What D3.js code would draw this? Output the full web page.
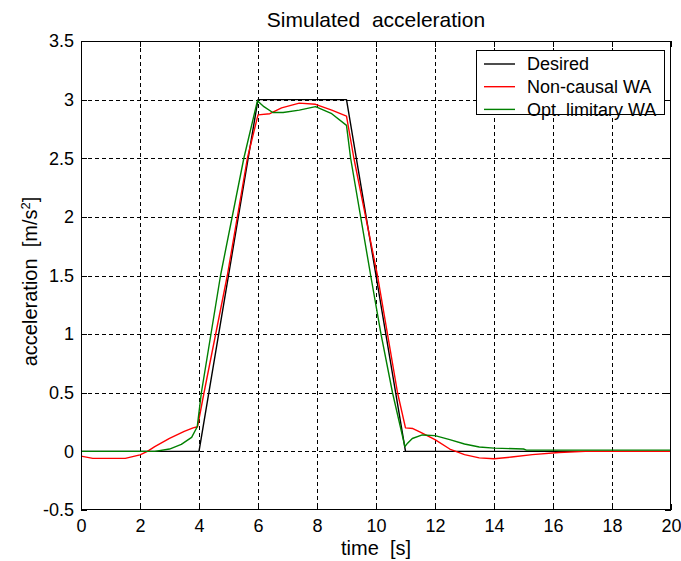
<!DOCTYPE html>
<html>
<head>
<meta charset="utf-8">
<script src="https://cdn.jsdelivr.net/npm/d3@7/dist/d3.min.js"></script>
<style>
  html, body { margin: 0; padding: 0; background: #fff; }
  svg { display: block; }
  text { font-family: "Liberation Sans", Arial, sans-serif; fill: #000; }
</style>
</head>
<body>
<svg id="chart" width="681" height="561"></svg>
<script>
// ---- data ----
const xTicks = [0, 2, 4, 6, 8, 10, 12, 14, 16, 18, 20];
const yTicks = [-0.5, 0, 0.5, 1, 1.5, 2, 2.5, 3, 3.5];
const yTickLabels = ["-0.5", "0", "0.5", "1", "1.5", "2", "2.5", "3", "3.5"];

const seriesNames = ["Desired", "Non-causal WA", "Opt. limitary WA"];
const seriesColors = ["#000000", "#ff0000", "#008000"];

const timeDesired = [0, 4, 6, 9, 11, 20];
const valDesired  = [0, 0, 3, 3, 0, 0];

const timeNonCausal = [0, 0.4, 1.5, 2.0, 2.25, 2.5, 3.0, 3.5, 3.8, 3.95, 4.17, 4.96, 5.64, 6.0, 6.4, 6.8, 7.4, 7.95, 8.5, 9.0, 9.25, 10.05, 10.39, 10.73, 11.0, 11.25, 11.5, 12.0, 12.5, 13.0, 13.5, 14.0, 14.6, 15.3, 16.2, 17.1, 20];
const valNonCausal  = [-0.04, -0.06, -0.06, -0.03, 0.0, 0.04, 0.11, 0.17, 0.2, 0.21, 0.5, 1.5, 2.5, 2.87, 2.88, 2.93, 2.97, 2.96, 2.91, 2.86, 2.5, 1.5, 1.0, 0.5, 0.2, 0.195, 0.165, 0.1, 0.02, -0.028, -0.055, -0.063, -0.048, -0.028, -0.009, 0, 0];

const timeOptimal = [0, 2.5, 3.0, 3.4, 3.75, 3.94, 4.08, 4.73, 5.52, 5.98, 6.2, 6.5, 6.85, 7.4, 7.95, 8.5, 9.0, 9.14, 9.82, 10.17, 10.56, 10.98, 11.07, 11.23, 11.57, 12.0, 12.5, 13.0, 13.5, 14.0, 15.0, 15.1, 20];
const valOptimal  = [0, 0, 0.02, 0.06, 0.12, 0.21, 0.5, 1.5, 2.5, 2.99, 2.94, 2.89, 2.89, 2.91, 2.94, 2.88, 2.78, 2.5, 1.5, 1.0, 0.5, 0.04, 0.07, 0.11, 0.14, 0.134, 0.10, 0.063, 0.037, 0.028, 0.02, 0.011, 0.011];

// ---- layout ----
const L = 81, R = 671, T = 41, B = 510;
const svg = d3.select("#chart");
const x = d3.scaleLinear().domain([0, 20]).range([L, R]);
const y = d3.scaleLinear().domain([-0.5, 3.5]).range([B, T]);

svg.append("rect").attr("x", 0).attr("y", 0).attr("width", 681).attr("height", 561).attr("fill", "#fff");

// grid
const grid = svg.append("g").attr("stroke", "#000").attr("stroke-width", 1)
  .attr("stroke-dasharray", "4,3").attr("shape-rendering", "crispEdges");
xTicks.filter(d => d > 0 && d < 20).forEach(d => {
  grid.append("line").attr("x1", Math.round(x(d)) + 0.5).attr("x2", Math.round(x(d)) + 0.5)
    .attr("y1", T).attr("y2", B);
});
yTicks.filter(d => d > -0.5 && d < 3.5).forEach(d => {
  grid.append("line").attr("y1", Math.round(y(d)) + 0.5).attr("y2", Math.round(y(d)) + 0.5)
    .attr("x1", L).attr("x2", R);
});

// axes (ticks inside, all four sides)
const tickLen = 6;
const axB = d3.axisBottom(x).tickValues(xTicks).tickSizeInner(-tickLen).tickSizeOuter(0).tickPadding(9).tickFormat(d3.format("d"));
const axT = d3.axisTop(x).tickValues(xTicks).tickSizeInner(-tickLen).tickSizeOuter(0).tickFormat("");
const axLft = d3.axisLeft(y).tickValues(yTicks).tickSizeInner(-tickLen).tickSizeOuter(0).tickPadding(7)
  .tickFormat((d, i) => yTickLabels[i]);
const axRgt = d3.axisRight(y).tickValues(yTicks).tickSizeInner(-tickLen).tickSizeOuter(0).tickFormat("");

function styleAxis(g) {
  g.select(".domain").remove();
  g.selectAll("line").attr("stroke", "#000").attr("shape-rendering", "crispEdges");
  g.selectAll("text").style("font-family", '"Liberation Sans", Arial, sans-serif').style("font-size", "18px").attr("fill", "#000");
}
svg.append("g").attr("transform", `translate(0,${B})`).call(axB).call(styleAxis);
svg.append("g").attr("transform", `translate(0,${T})`).call(axT).call(styleAxis);
svg.append("g").attr("transform", `translate(${L},0)`).call(axLft).call(styleAxis);
svg.append("g").attr("transform", `translate(${R},0)`).call(axRgt).call(styleAxis);

// clip
svg.append("clipPath").attr("id", "plotclip").append("rect")
  .attr("x", L).attr("y", T).attr("width", R - L).attr("height", B - T);

const line = d3.line().x(d => x(d[0])).y(d => y(d[1]));
const series = [
  d3.zip(timeDesired, valDesired),
  d3.zip(timeNonCausal, valNonCausal),
  d3.zip(timeOptimal, valOptimal)
];
const lines = svg.append("g").attr("clip-path", "url(#plotclip)");
series.forEach((s, i) => {
  lines.append("path").datum(s).attr("d", line)
    .attr("fill", "none").attr("stroke", seriesColors[i]).attr("stroke-width", 1.4)
    .attr("stroke-linejoin", "round");
});

// frame
svg.append("rect").attr("x", L + 0.5).attr("y", T + 0.5).attr("width", R - L - 1).attr("height", B - T - 1)
  .attr("fill", "none").attr("stroke", "#000").attr("stroke-width", 1.2).attr("shape-rendering", "crispEdges");

// legend
const lg = svg.append("g");
lg.append("rect").attr("x", 476.5).attr("y", 50.5).attr("width", 188).attr("height", 64)
  .attr("fill", "#fff").attr("stroke", "#000").attr("stroke-width", 1).attr("shape-rendering", "crispEdges");
seriesNames.forEach((name, i) => {
  const cy = 64 + i * 22.7;
  lg.append("line").attr("x1", 484).attr("x2", 515).attr("y1", cy).attr("y2", cy)
    .attr("stroke", seriesColors[i]).attr("stroke-width", 1.4);
  lg.append("text").attr("x", 527).attr("y", cy + 6.3).style("font-size", "18px").text(name);
});

// title and axis labels
svg.append("text").attr("x", (L + R) / 2).attr("y", 27).attr("text-anchor", "middle")
  .style("font-size", "21px").style("white-space", "pre").text("Simulated  acceleration");
svg.append("text").attr("x", (L + R) / 2).attr("y", 555).attr("text-anchor", "middle")
  .style("font-size", "20px").style("white-space", "pre").text("time  [s]");
const yl = svg.append("text").attr("transform", `translate(37,${(T + B) / 2 + 6}) rotate(-90)`)
  .attr("text-anchor", "middle").style("font-size", "20px").style("white-space", "pre");
yl.append("tspan").text("acceleration  [m/s");
yl.append("tspan").attr("dy", -7).style("font-size", "13px").text("2");
yl.append("tspan").attr("dy", 7).text("]");
</script>
</body>
</html>
